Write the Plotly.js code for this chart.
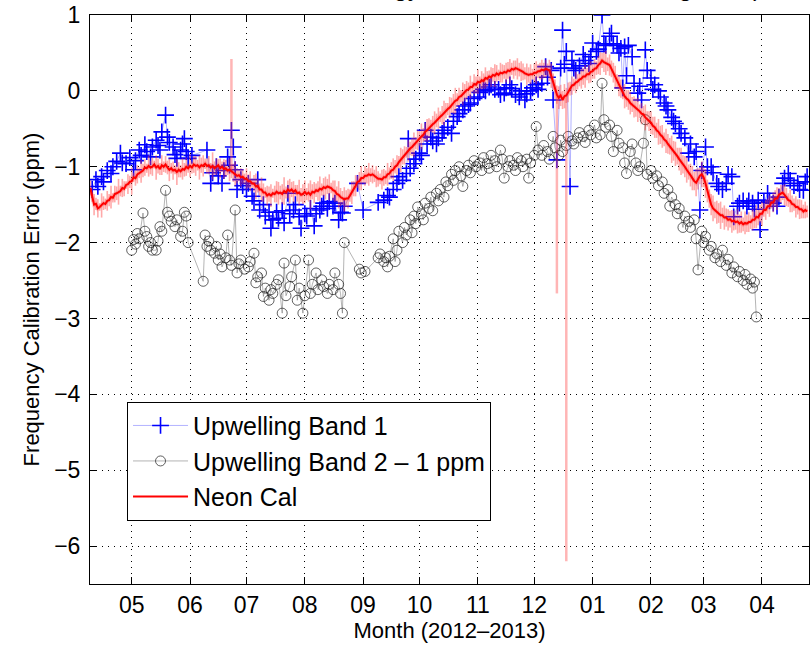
<!DOCTYPE html>
<html>
<head>
<meta charset="utf-8">
<script src="https://cdn.plot.ly/plotly-3.0.1.min.js"></script>
<style>
  html, body { margin: 0; padding: 0; background: #fff; }
  #chart { width: 812px; height: 646px; }
</style>
</head>
<body>
<div id="chart"></div>
<script>
// Day offsets are counted from 1 May 2012 (day 0).
const DAY_ZERO_UTC = Date.UTC(2012, 4, 1);

// Upwelling Band 1 (ppm)
const band1Days = [
  -21,-19,-18,-16,-15,-13,-11,-10,-8,-6,-5,-3,-1,1,2,4,5,7,8,10,11,13,14,15,16,18,19,20,22,23,24,26,27,28,29,30,32,
  40,42,43,45,46,48,49,51,52,53,54,55,56,58,59,61,62,64,65,67,68,70,71,73,74,75,77,78,80,81,83,84,86,87,89,90,92,93,95,97,
  98,100,101,102,104,105,107,108,110,111,112,113,
  120,123,
  131,134,136,137,139,141,142,144,146,147,148,150,151,153,154,156,157,159,160,162,163,165,166,168,170,171,173,174,176,177,
  179,180,182,184,185,187,188,190,191,193,195,196,198,199,201,202,204,206,207,209,210,212,213,215,216,218,220,221,223,224,
  226,228,229,230,231,233,234,235,236,238,240,241,243,244,245,247,248,250,251,252,254,255,256,258,259,260,261,262,263,264,
  266,267,269,270,271,273,274,276,277,278,280,281,283,284,285,287,288,289,291,292,294,296,297,299,300,302,303,305,306,308,
  309,311,312,314,316,317,319,320,322,323,325,327,328,330,331,333,334,336,338,339,341,343,344,346,347,349,350,352,354,355,
  357,358,359
];
const band1Ppm = [
  -1.30,-1.17,-1.26,-1.13,-1.20,-1.05,-1.09,-1.00,-0.93,-0.82,-0.95,-0.96,-0.88,-1.04,-0.92,-0.78,-0.85,-0.71,-0.80,-0.87,
  -0.74,-0.65,-0.72,-0.78,-0.54,-0.32,-0.61,-0.68,-0.74,-0.84,-0.89,-0.78,-0.70,-0.63,-0.80,-0.89,-0.85,
  -0.78,-1.22,-1.08,-1.00,-1.12,-1.22,-1.05,-0.87,-0.98,-0.52,-0.74,-1.04,-1.30,-1.17,-1.25,-1.30,-1.22,-1.39,-1.45,-1.17,
  -1.57,-1.50,-1.65,-1.60,-1.81,-1.70,-1.60,-1.68,-1.58,-1.74,-1.35,-1.62,-1.57,-1.50,-1.66,-1.81,-1.62,-1.65,-1.55,-1.78,
  -1.62,-1.57,-1.52,-1.48,-1.55,-1.46,-1.52,-1.48,-1.70,-1.60,-1.61,-1.52,
  -1.22,-1.57,
  -1.47,-1.44,-1.38,-1.40,-1.30,-1.22,-1.13,-1.18,-1.09,-0.63,-1.02,-0.96,-0.90,-0.82,-0.85,-0.52,-0.70,-0.61,-0.66,-0.70,
  -0.62,-0.56,-0.52,-0.48,-0.56,-0.40,-0.34,-0.30,-0.25,-0.20,-0.18,-0.16,-0.10,-0.08,-0.02,0.02,0.00,0.05,0.08,0.02,
  0.02,-0.05,-0.03,0.04,0.08,0.03,-0.05,-0.08,0.00,-0.12,-0.04,0.00,0.04,0.08,0.02,0.10,0.32,0.18,0.27,-0.12,
  -0.91,0.30,0.80,0.35,0.52,-1.26,0.40,0.30,0.27,0.33,0.48,0.40,0.36,0.45,0.63,0.52,0.55,1.00,0.62,0.60,
  0.72,0.76,0.62,0.60,0.50,0.56,0.04,0.58,0.20,0.60,0.45,0.10,-0.03,0.06,-0.12,0.54,0.27,0.17,0.02,0.08,
  0.00,-0.08,-0.16,-0.20,-0.25,-0.35,-0.40,-0.43,-0.50,-0.56,-0.62,-0.82,-0.70,-0.87,-0.80,-1.57,-1.05,-0.74,-1.00,-1.00,
  -1.08,-1.22,-1.26,-1.30,-1.22,-1.10,-1.13,-1.66,-1.52,-1.48,-1.45,-1.52,-1.45,-1.48,-1.56,-1.44,-1.83,-1.47,-1.35,-1.45,
  -1.48,-1.52,-1.40,-1.22,-1.15,-1.09,-1.18,-1.25,-1.22,-1.30,-1.31,-1.20,-1.13
];

// Upwelling Band 2, shifted down by 1 ppm
const band2Days = [
  0,1,2,3,4,6,7,8,9,10,11,13,14,15,16,18,19,20,21,23,24,26,27,28,29,30,
  38,39,40,41,42,44,45,46,47,48,50,51,52,53,55,56,57,58,60,62,63,65,66,67,69,70,71,73,74,75,
  77,78,80,81,82,84,85,87,88,89,91,92,94,95,96,98,99,101,102,104,105,107,108,110,111,112,113,
  121,122,124,
  131,132,134,135,136,137,139,140,141,142,144,145,146,148,149,150,151,152,154,155,
  156,158,159,160,162,163,164,166,167,168,170,171,172,174,175,176,178,179,180,182,
  183,185,186,187,189,190,191,193,194,196,197,198,200,201,203,204,205,207,208,210,
  211,212,214,215,216,218,219,221,222,224,225,227,228,229,231,232,234,235,237,238,
  240,241,243,244,246,247,249,250,251,252,254,255,256,258,259,261,262,263,265,266,
  268,269,270,272,273,274,276,277,279,280,282,283,285,286,287,289,290,291,293,294,
  296,297,299,300,301,303,304,305,307,308,310,311,313,314,316,317,319,320,322,323,
  325,326,327,329,330,331,332
];
const band2Ppm = [
  -2.10,-1.96,-2.02,-1.88,-1.95,-1.61,-1.85,-1.92,-2.05,-2.00,-2.10,-2.10,-1.98,-1.79,-1.85,-1.31,-1.60,-1.65,-1.72,-1.79,
  -1.70,-1.92,-1.85,-1.60,-1.65,-2.00,
  -2.51,-1.90,-2.05,-1.98,-2.10,-2.14,-2.05,-2.23,-2.15,-2.32,-2.20,-1.90,-2.23,-2.30,-1.57,-2.40,-2.28,-2.23,-2.35,-2.32,
  -2.25,-2.14,-2.53,-2.45,-2.40,-2.71,-2.60,-2.76,-2.62,-2.67,-2.55,-2.49,-2.93,-2.27,-2.70,-2.58,-2.45,-2.23,-2.76,-2.60,
  -2.93,-2.70,-2.23,-2.67,-2.55,-2.40,-2.62,-2.49,-2.58,-2.67,-2.55,-2.62,-2.40,-2.55,-2.67,-2.93,-2.00,
  -2.35,-2.40,-2.38,
  -2.20,-2.15,-2.25,-2.20,-2.32,-2.18,-1.95,-2.25,-2.10,-1.85,-2.00,-1.80,-1.90,-1.70,-1.87,-1.65,-1.75,-1.53,-1.62,-1.70,
  -1.48,-1.55,-1.40,-1.58,-1.35,-1.45,-1.30,-1.40,-1.20,-1.25,-1.10,-1.18,-1.05,-1.00,-1.12,-1.26,-1.05,-0.98,-1.08,-0.92,
  -1.00,-0.95,-1.05,-0.88,-0.96,-1.02,-0.85,-0.92,-1.00,-0.78,-0.90,-1.15,-1.00,-0.92,-0.98,-1.05,-0.88,-0.92,-1.00,-0.90,
  -1.15,-0.95,-0.85,-0.47,-0.78,-0.85,-0.72,-0.80,-0.90,-0.60,-0.75,-0.85,-0.65,-0.80,-0.72,-0.60,-0.66,-0.70,-0.62,-0.55,
  -0.60,-0.68,-0.52,-0.58,-0.45,-0.62,-0.58,0.10,-0.38,-0.48,-0.45,-0.60,-0.80,-0.52,-0.69,-0.75,-0.95,-1.09,-0.80,-0.70,
  -0.95,-1.05,-1.00,-0.69,-0.38,-1.10,-1.05,-1.15,-1.12,-1.25,-1.20,-1.35,-1.30,-1.52,-1.40,-1.50,-1.62,-1.55,-1.80,-1.65,
  -1.72,-1.80,-1.70,-1.95,-2.36,-1.85,-2.00,-1.92,-2.10,-2.05,-2.20,-2.15,-2.25,-2.10,-2.30,-2.22,-2.40,-2.32,-2.45,-2.38,
  -2.50,-2.42,-2.55,-2.48,-2.60,-2.52,-2.98
];

// Neon calibration: daily mean, one value per day starting at day -22 (9 April 2012)
const neonFirstDay = -22;
const neonPpm = [
  -1.28,-1.40,-1.50,-1.49,-1.55,-1.53,-1.51,-1.48,-1.49,-1.45,
  -1.44,-1.40,-1.41,-1.36,-1.35,-1.33,-1.32,-1.28,-1.29,-1.24,
  -1.23,-1.20,-1.19,-1.14,-1.15,-1.10,-1.08,-1.06,-1.05,-1.01,
  -1.02,-0.99,-1.01,-1.00,-0.97,-1.01,-0.99,-1.03,-0.98,-1.00,
  -0.97,-1.01,-1.04,-1.02,-1.05,-1.04,-1.07,-1.04,-1.06,-1.03,
  -1.04,-1.00,-1.02,-0.99,-1.01,-0.97,-0.99,-0.98,-1.01,-0.98,
  -0.99,-0.96,-0.99,-0.98,-1.01,-0.99,-1.02,-1.00,-0.98,-1.02,
  -1.00,-1.03,-1.02,-1.05,-1.04,-1.06,-1.08,-1.09,-1.12,-1.11,
  -1.14,-1.13,-1.16,-1.16,-1.19,-1.19,-1.22,-1.22,-1.26,-1.25,
  -1.30,-1.30,-1.34,-1.34,-1.38,-1.36,-1.38,-1.35,-1.36,-1.33,
  -1.35,-1.34,-1.36,-1.32,-1.34,-1.30,-1.32,-1.30,-1.33,-1.31,
  -1.35,-1.34,-1.37,-1.36,-1.33,-1.36,-1.34,-1.37,-1.33,-1.34,
  -1.31,-1.32,-1.29,-1.30,-1.27,-1.28,-1.26,-1.27,-1.28,-1.31,
  -1.32,-1.36,-1.37,-1.40,-1.41,-1.43,-1.42,-1.42,-1.38,-1.34,
  -1.29,-1.25,-1.20,-1.19,-1.15,-1.15,-1.12,-1.12,-1.10,-1.11,
  -1.10,-1.12,-1.13,-1.16,-1.16,-1.17,-1.14,-1.14,-1.10,-1.09,
  -1.05,-1.04,-1.00,-0.98,-0.94,-0.91,-0.87,-0.85,-0.81,-0.79,
  -0.76,-0.74,-0.71,-0.69,-0.65,-0.63,-0.60,-0.58,-0.54,-0.52,
  -0.49,-0.46,-0.44,-0.42,-0.39,-0.36,-0.34,-0.32,-0.29,-0.26,
  -0.24,-0.22,-0.19,-0.17,-0.13,-0.12,-0.08,-0.07,-0.04,-0.02,
  0.01,0.02,0.05,0.05,0.09,0.08,0.12,0.11,0.14,0.13,
  0.17,0.16,0.19,0.18,0.21,0.20,0.23,0.21,0.24,0.23,
  0.25,0.24,0.27,0.26,0.29,0.28,0.30,0.29,0.28,0.26,
  0.25,0.23,0.22,0.21,0.22,0.22,0.24,0.24,0.26,0.26,
  0.28,0.27,0.29,0.28,0.27,0.20,0.12,0.02,-0.05,-0.09,
  -0.06,-0.12,-0.07,-0.06,-0.02,0.03,0.07,0.08,0.11,0.12,
  0.15,0.16,0.19,0.19,0.22,0.22,0.25,0.26,0.29,0.30,
  0.34,0.36,0.40,0.38,0.37,0.35,0.34,0.29,0.24,0.18,
  0.12,0.07,0.03,-0.02,-0.07,-0.10,-0.12,-0.16,-0.18,-0.21,
  -0.22,-0.25,-0.27,-0.30,-0.31,-0.35,-0.37,-0.40,-0.42,-0.46,
  -0.48,-0.52,-0.54,-0.58,-0.60,-0.64,-0.66,-0.70,-0.73,-0.77,
  -0.79,-0.83,-0.86,-0.90,-0.93,-0.97,-1.00,-1.04,-1.07,-1.11,
  -1.15,-1.19,-1.21,-1.16,-1.12,-1.10,-1.14,-1.22,-1.32,-1.42,
  -1.50,-1.55,-1.57,-1.60,-1.61,-1.64,-1.64,-1.67,-1.67,-1.70,
  -1.69,-1.72,-1.71,-1.73,-1.72,-1.75,-1.73,-1.76,-1.74,-1.75,
  -1.73,-1.73,-1.70,-1.70,-1.66,-1.67,-1.62,-1.62,-1.57,-1.57,
  -1.52,-1.52,-1.47,-1.47,-1.42,-1.42,-1.37,-1.36,-1.34,-1.37,
  -1.40,-1.44,-1.45,-1.49,-1.50,-1.53,-1.53,-1.56,-1.56,-1.59,
  -1.57,-1.59
];

// Neon calibration: half-range of the samples within each day
const neonSpread = [
  .10,.06,.14,.08,.12,.05,.16,.09,.07,.13,
  .08,.15,.06,.11,.09,.17,.07,.12,.10,.05,
  .13,.08,.18,.06,.10,.12,.07,.15,.09,.11,
  .06,.14,.09,.12,.05,.16,.10,.08,.13,.07,
  .11,.09,.15,.07,.12,.06,.17,.10,.08,.14,
  .09,.12,.06,.15,.08,.11,.13,.07,.16,.10,
  .14,.07,.10,.12,.06,.18,.09,.11,.08,.13,
  .07,.13,.11,.06,.15,.09,.12,.16,.10,.08,
  .12,.10,.07,.14,.09,.13,.06,.11,.17,.09,
  .08,.16,.12,.07,.13,.10,.15,.06,.11,.14,
  .15,.09,.13,.18,.08,.12,.16,.10,.14,.07,
  .11,.17,.09,.13,.15,.08,.12,.19,.10,.14,
  .09,.13,.16,.08,.12,.15,.10,.17,.07,.13,
  .14,.10,.18,.12,.09,.16,.11,.13,.08,.15,
  .10,.14,.08,.12,.16,.07,.13,.10,.15,.09,
  .12,.08,.14,.10,.07,.13,.11,.09,.15,.08,
  .11,.15,.09,.13,.08,.16,.10,.12,.07,.14,
  .09,.12,.16,.08,.13,.10,.17,.09,.12,.15,
  .13,.08,.11,.15,.09,.14,.07,.12,.16,.10,
  .08,.14,.10,.13,.17,.09,.12,.08,.15,.11,
  .12,.09,.15,.07,.13,.11,.16,.08,.12,.10,
  .14,.10,.08,.13,.09,.15,.11,.07,.13,.12,
  .09,.13,.11,.16,.08,.12,.10,.14,.09,.13,
  .11,.08,.14,.10,.13,.07,.12,.15,.09,.11,
  .13,.10,.12,.08,.14,.16,.11,.13,.12,.15,
  .14,.12,.16,.10,.13,.09,.12,.08,.14,.10,
  .09,.13,.11,.15,.08,.12,.14,.10,.13,.09,
  .12,.15,.10,.13,.16,.09,.14,.11,.13,.15,
  .10,.14,.12,.09,.16,.11,.13,.15,.10,.14,
  .12,.16,.09,.14,.11,.17,.10,.13,.15,.12,
  .14,.10,.17,.12,.15,.09,.16,.13,.11,.18,
  .13,.16,.11,.15,.18,.12,.14,.17,.10,.15,
  .16,.12,.18,.14,.11,.17,.13,.19,.15,.12,
  .14,.17,.11,.15,.13,.18,.10,.16,.12,.14,
  .11,.15,.13,.10,.16,.12,.14,.09,.15,.11,
  .13,.09,.14,.11,.15,.10,.12,.16,.09,.13,
  .10,.14,.08,.13,.11,.15,.09,.12,.10,.14,
  .12,.09,.15,.11,.08,.14,.10,.13,.12,.09,
  .11,.08
];

// Single raw neon samples far from the daily curve
const neonOutlierDays = [53, 226, 231];
const neonOutlierPpm = [0.42, -2.67, -6.20];

const monthLabels = ['05','06','07','08','09','10','11','12','01','02','03','04'];

function dayToDate(d) {
  return new Date(DAY_ZERO_UTC + d * 86400000).toISOString().slice(0, 10);
}
const monthTickDates = monthLabels.map((_, i) => new Date(Date.UTC(2012, 4 + i, 1)).toISOString().slice(0, 10));
const neonDates = neonPpm.map((_, i) => dayToDate(neonFirstDay + i));

// each outlier is drawn as a thin streak from the daily curve out to the raw sample
const outlierX = [], outlierY = [];
neonOutlierDays.forEach((d, i) => {
  const date = dayToDate(d);
  outlierX.push(date, date, null);
  outlierY.push(neonPpm[d - neonFirstDay], neonOutlierPpm[i], null);
});

const FONT = 'Liberation Sans, Arial, Helvetica, sans-serif';

const traces = [
  {
    name: 'Upwelling Band 1',
    x: band1Days.map(dayToDate), y: band1Ppm,
    type: 'scatter', mode: 'lines+markers',
    line: { color: 'rgba(0,0,255,0.3)', width: 1 },
    marker: { symbol: 'cross-thin-open', size: 12, color: '#0000ff', line: { color: '#0000ff', width: 1.6 } }
  },
  {
    name: 'Upwelling Band 2 \u2013 1 ppm',
    x: band2Days.map(dayToDate), y: band2Ppm,
    type: 'scatter', mode: 'lines+markers',
    line: { color: 'rgba(40,40,40,0.35)', width: 1 },
    marker: { symbol: 'circle-open', size: 10, color: 'rgba(30,30,30,0.7)', line: { color: 'rgba(30,30,30,0.7)', width: 1 } }
  },
  {
    name: 'Neon Cal outliers', showlegend: false, hoverinfo: 'skip',
    x: outlierX, y: outlierY,
    type: 'scatter', mode: 'lines', connectgaps: false,
    line: { color: 'rgba(255,70,70,0.4)', width: 2.5 }
  },
  {
    // daily spread of the neon samples, drawn as pale vertical streaks
    name: 'Neon Cal spread', showlegend: false, hoverinfo: 'skip',
    x: neonDates, y: neonPpm,
    type: 'scatter', mode: 'lines',
    line: { color: 'rgba(255,60,60,0.25)', width: 4 },
    error_y: { type: 'data', array: neonSpread, visible: true, color: 'rgba(255,50,50,0.42)', thickness: 1.6, width: 0 }
  },
  {
    name: 'Neon Cal',
    x: neonDates, y: neonPpm,
    type: 'scatter', mode: 'lines',
    line: { color: '#ff0000', width: 2 }
  }
];

const axisCommon = {
  ticks: 'inside', ticklen: 7, tickwidth: 1, tickcolor: '#000',
  showline: true, linecolor: '#000', linewidth: 1, mirror: 'ticks',
  showgrid: true, gridcolor: '#000', gridwidth: 1, griddash: '1px,5px',
  zeroline: false,
  tickfont: { family: FONT, size: 23, color: '#000' }
};

const layout = {
  width: 812, height: 646,
  margin: { l: 90, r: 3, t: 15, b: 62 },
  paper_bgcolor: '#fff', plot_bgcolor: '#fff',
  showlegend: true,
  xaxis: Object.assign({}, axisCommon, {
    type: 'date',
    range: ['2012-04-08 20:00', '2013-04-26'],
    tickmode: 'array', tickvals: monthTickDates, ticktext: monthLabels,
    title: { text: 'Month (2012\u20132013)', font: { family: FONT, size: 22, color: '#000' }, standoff: 3 }
  }),
  yaxis: Object.assign({}, axisCommon, {
    range: [-6.5, 1], tick0: 0, dtick: 1,
    ticklabelstandoff: 4,
    title: { text: 'Frequency Calibration Error (ppm)', font: { family: FONT, size: 22, color: '#000' }, standoff: 8 }
  }),
  legend: {
    x: 0.0515, y: 0.3204, xanchor: 'left', yanchor: 'top',
    bgcolor: '#fff', bordercolor: '#000', borderwidth: 1,
    font: { family: FONT, size: 25, color: '#000' },
    itemwidth: 55, tracegroupgap: 0
  },
  annotations: [{
    text: 'Neon Calibration Technology: Full Mission Data Range Fit (2012\u20132013)',
    xref: 'paper', yref: 'paper', x: 0.0125, y: 1, xanchor: 'left', yanchor: 'bottom',
    yshift: 11.5, showarrow: false,
    font: { family: FONT, size: 25, color: '#000' }
  }]
};

Plotly.newPlot('chart', traces, layout, { displayModeBar: false, staticPlot: true });
</script>
</body>
</html>
